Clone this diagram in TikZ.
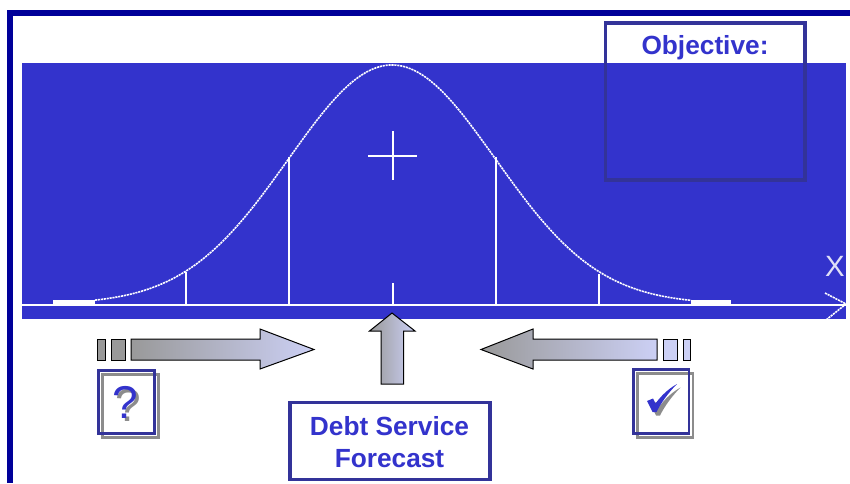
\documentclass[tikz,border=0pt]{standalone}
\usepackage{fontspec}
\setmainfont{Liberation Sans}
\definecolor{framenavy}{RGB}{0,0,153}
\definecolor{panelblue}{RGB}{51,51,204}
\definecolor{boxblue}{RGB}{51,51,153}
\definecolor{arrgray}{RGB}{153,153,153}
\definecolor{arrlight}{RGB}{204,208,245}
\definecolor{shadowgray}{RGB}{140,140,140}

\begin{document}
\begin{tikzpicture}[
  x=0.75pt, y=-0.75pt,
  box/.style={draw=boxblue, line width=2.4pt, rectangle, align=center, inner sep=0pt, outer sep=0pt, anchor=north west},
  lbl/.style={text=panelblue, font=\fontsize{19.7}{24}\selectfont\bfseries, align=center, inner sep=0pt},
  markbox/.style={draw=boxblue, line width=2pt},
  markshadow/.style={draw=shadowgray, line width=2pt},
  curve/.style={draw=white, line width=1.2pt, dash pattern=on 1.6pt off 0.6pt},
  rule/.style={draw=white, line width=1.35pt},
  blockar/.style={draw=black, line width=0.75pt},
  blk/.style={draw=black, line width=0.75pt}]
\useasboundingbox (0,0) rectangle (850,483);

% --- outer frame: top and left bars only
\fill[framenavy] (7,10) rectangle (850,16);
\fill[framenavy] (7,10) rectangle (13,483);

% --- panel with the bell curve
\fill[panelblue] (22,63) rectangle (846,319);
\draw[curve] plot[domain=95:691, samples=240] (\x,{304-239*exp(-0.5*((\x-392)/103.5)^2)});
\draw[white, line width=2.4pt] (53,302) -- (95,302);
\draw[white, line width=2.4pt] (691,302) -- (731,302);
\draw[rule] (22,305) -- (846,305);
\foreach \xpos/\ytop in {186/272, 289/157, 496/157, 599/274, 393/283}
  \draw[rule] (\xpos,\ytop) -- (\xpos,304);
% mean marker
\draw[rule] (368,156) -- (417,156);
\draw[rule] (393,131) -- (393,180);
% axis end, cut off by the panel edge
\begin{scope}
\clip (22,63) rectangle (846,319);
\draw[curve] (825,293) -- (846,304) -- (826,320);
\end{scope}
\node[text=white, opacity=0.85, inner sep=0pt, font=\fontsize{22}{22}\selectfont] (xlabel) at (835,266) {X};

% --- objective box, no fill: the panel shows through
\node[box, minimum width=149.6pt, minimum height=117.8pt] (objective) at (605.5,23) {};
\node[lbl] (objtitle) at (705,48) {Objective:};

% --- left arrow: from unknown
\filldraw[blk, fill=arrgray] (97.5,339) rectangle (105,360);
\filldraw[blk, fill=arrgray] (111.5,339) rectangle (125.5,360);
\shadedraw[blockar, left color=arrgray, middle color=arrlight!85!arrgray, right color=arrlight]
  (131,339) -- (260,339) -- (260,329) -- (314,349.5) -- (260,369) -- (260,360) -- (131,360) -- cycle;
\draw[markshadow] (102.3,374.3) rectangle (158.2,437.7);
\draw[markbox] (98.3,370.3) rectangle (154.2,433.7);
\node[text=shadowgray, inner sep=0pt, font=\fontsize{34.5}{34.5}\selectfont] (unknownshadow) at (128.5,405) {?};
\node[text=panelblue, inner sep=0pt, font=\fontsize{34.5}{34.5}\selectfont] (unknown) at (125.5,402) {?};

% --- right arrow: from known
\filldraw[blk, fill=arrlight] (663,339) rectangle (677,360);
\filldraw[blk, fill=arrlight] (683,339) rectangle (690,360);
\shadedraw[blockar, left color=arrgray, middle color=arrgray!55!arrlight, right color=arrlight]
  (657,339) -- (533,339) -- (533,329) -- (481,349.5) -- (533,369) -- (533,360) -- (657,360) -- cycle;
\draw[markshadow] (637.3,373.3) rectangle (693,437.3);
\draw[markbox] (633.3,369.3) rectangle (689,433.3);
\foreach \dx/\col in {3.5/shadowgray, 0/panelblue}
  \fill[\col, shift={(\dx,\dx)}] (647,401) -- (653,398.5) -- (655.5,403.5)
    .. controls (661,396) and (668,389) .. (677,384)
    .. controls (668,393) and (661,403) .. (656.5,412) -- (652.5,412) -- cycle;

% --- middle arrow and forecast box
\shadedraw[blockar, left color=arrgray, right color=arrlight]
  (381,384) -- (381,331) -- (369.5,331) -- (392,313) -- (415,331) -- (403.5,331) -- (403.5,384) -- cycle;
\node[box, minimum width=150pt, minimum height=57.8pt] (forecastbox) at (290,402.3) {};
\node[lbl] (forecast) at (389.5,442) {Debt Service\\Forecast};
\end{tikzpicture}
\end{document}
